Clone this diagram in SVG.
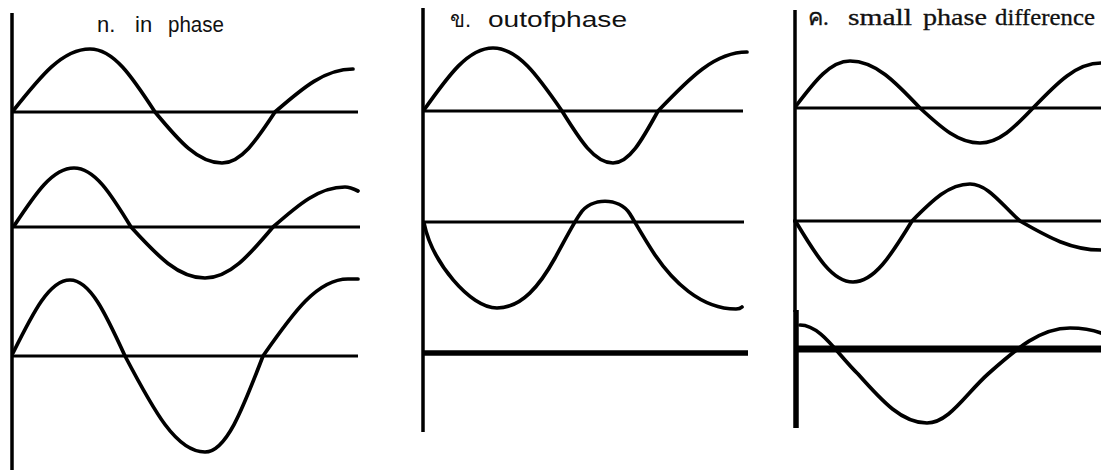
<svg xmlns="http://www.w3.org/2000/svg" width="1101" height="470" viewBox="0 0 1101 470">
<style>
.ax{stroke:#000;stroke-width:3.5;fill:none}
.bl{stroke:#000;stroke-width:3;fill:none}
.thick{stroke:#000;stroke-width:5.5;fill:none}
.thicker{stroke:#000;stroke-width:7;fill:none}
.wv{stroke:#000;stroke-width:3.7;fill:none;stroke-linecap:round;stroke-linejoin:round}
.sans{font-family:"Liberation Sans",Arial,sans-serif;font-size:22px;fill:#111}
.serif{font-family:"Liberation Serif","Times New Roman",serif;font-size:23px;fill:#111;stroke:#111;stroke-width:0.3}
</style>
<rect width="1101" height="470" fill="#fff"/>

<g id="panel-in-phase">
  <text class="sans" y="32"><tspan x="97">n.</tspan><tspan x="135">in</tspan><tspan x="168" textLength="56" lengthAdjust="spacingAndGlyphs">phase</tspan></text>
  <line class="ax" x1="12" y1="13" x2="12" y2="470"/>
  <line class="bl" x1="12" y1="112" x2="358" y2="112"/>
  <line class="bl" x1="12" y1="227" x2="360" y2="227"/>
  <line class="bl" x1="12" y1="356" x2="358" y2="356"/>
  <path class="wv" d="M13,111 C40.7,76.1 62.3,49 90,49 C113.4,49 131.6,76.1 155,112 C179.1,141.1 197.9,163 222,163 C241.1,163 255.9,141.1 275,112 C303.1,87.5 324.9,69 353,69"/>
  <path class="wv" d="M14,226 C35.6,193.4 52.4,168 74,168 C94.5,168 110.5,193.4 131,227 C157.6,256.1 178.4,278 205,278 C229.5,278 248.5,256.1 273,227 C298.9,204.2 319.1,187 345,187 C350,187 354,189 358,191"/>
  <path class="wv" d="M13,353 C33.5,311.8 49.5,280 70,280 C89.8,280 105.2,312.7 125,356 C153.8,410.7 176.2,452 205,452 C225.9,452 242.1,410.7 263,356 C293.6,312.1 317.4,279 348,279 L358,279"/>
</g>

<g id="panel-out-of-phase">
  <text class="sans" y="27"><tspan x="450">ข.</tspan><tspan x="488" textLength="139" lengthAdjust="spacingAndGlyphs">outofphase</tspan></text>
  <line class="ax" x1="423" y1="8" x2="423" y2="432"/>
  <line class="bl" x1="423" y1="111" x2="743" y2="111"/>
  <line class="bl" x1="423" y1="222" x2="744" y2="222"/>
  <line class="thick" x1="423" y1="353" x2="748" y2="353"/>
  <path class="wv" d="M424,110 C448.8,75.1 468.2,48 493,48 C517.8,48 537.2,75.1 562,111 C580.4,140.6 594.6,163 613,163 C629.2,163 641.8,140.6 658,111 C690,77.4 715,52 747,52"/>
  <path class="wv" d="M424,223 C432,262 470,308 497,308 C522,308 540,285 555,258 C565,240 573,224 580,214 C591,197 619,197 630,214 C636,224 645,240 655,255 C672,280 700,309 736,309 C739,309 741,308 742,307"/>
</g>

<g id="panel-small-phase-difference">
  <text class="serif" y="25"><tspan x="808">ค.</tspan><tspan x="848" textLength="64" lengthAdjust="spacingAndGlyphs">small</tspan><tspan x="923" textLength="64" lengthAdjust="spacingAndGlyphs">phase</tspan><tspan x="995" textLength="100" lengthAdjust="spacingAndGlyphs">difference</tspan></text>
  <line class="ax" x1="795" y1="10" x2="795" y2="312"/>
  <line class="thick" x1="796" y1="310" x2="796" y2="428"/>
  <line class="bl" x1="795" y1="108" x2="1101" y2="108"/>
  <line class="bl" x1="793" y1="221" x2="1101" y2="221"/>
  <line class="thicker" x1="797" y1="349" x2="1101" y2="349"/>
  <path class="wv" d="M796,106 C815.4,80.4 830.6,61 850,61 C875.2,61 894.8,81.2 920,108 C941.6,128 958.4,143 980,143 C999.1,143 1013.9,128 1033,108 C1057.5,82.4 1076.5,63 1101,63"/>
  <path class="wv" d="M796,222 C816.5,256.2 832.5,282 853,282 C874.2,282 890.8,255.8 912,221 C932.9,199.9 949.1,184 970,184 C988,184 1002,205.1 1020,221 C1048.8,237.5 1071.2,250 1101,250"/>
  <path class="wv" d="M800,325 C820.9,325 837.1,353.9 858,374 C882.8,401.9 902.2,423 927,423 C949,423 966,393.6 988,374 C1017.5,347.8 1040.5,328 1070,328 C1085,328 1093,330 1101,333"/>
</g>
</svg>
